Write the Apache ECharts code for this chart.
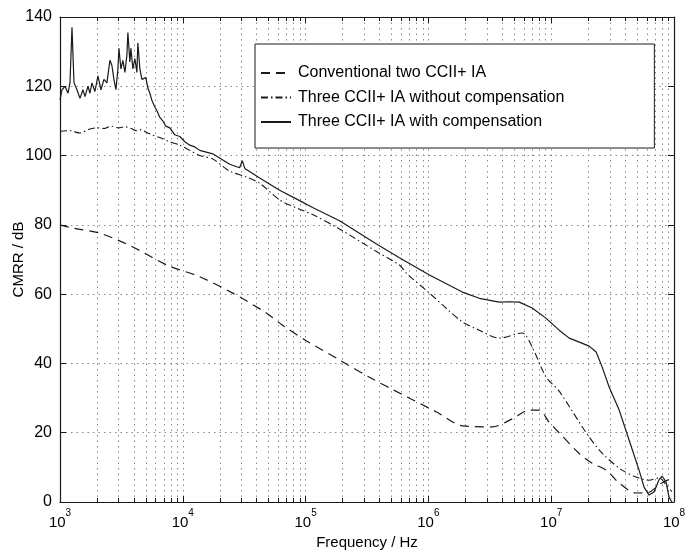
<!DOCTYPE html>
<html>
<head>
<meta charset="utf-8">
<script src="https://cdn.jsdelivr.net/npm/echarts@6/dist/echarts.min.js"></script>
<style>
  html, body { margin: 0; padding: 0; background: #fff; }
  #chart { width: 688px; height: 553px; }
</style>
</head>
<body>
<div id="chart"></div>
<script>
// series names (legend order)
const seriesNames = [
  'Conventional two CCII+ IA',
  'Three CCII+ IA without compensation',
  'Three CCII+ IA with compensation'
];

// conventional two CCII+ IA
const convFreq = [1000, 1300, 2115, 3922, 7414, 13746, 25500, 48190, 65010, 101900, 189000, 331300,
  614700, 1162000, 1890000, 3313000, 4819000, 6622000, 7985000, 9631000, 11610000, 16900000,
  21540000, 27990000, 35710000, 49090000, 62620000, 75510000, 91060000];
const convVal = [80, 79, 77.6, 73.6, 68.4, 65, 60.3, 54.5, 51, 46.5, 41, 36,
  31, 26, 22, 21.7, 24, 26.5, 26.5, 23, 20, 14,
  11.2, 9.2, 5.5, 2.6, 2.8, 5, 6.5];

// three CCII+ IA without compensation
const noCompFreq = [1000, 1200, 1450, 1700, 2000, 2300, 2600, 3000, 3400, 3800, 4200, 4600, 5000,
  5600, 6500, 7800, 9454, 11399, 13746, 17538, 24106, 33136, 42267, 61456, 89390, 114000,
  189000, 377800, 581000, 664000, 1019000, 1390000, 1890000, 2598000, 3778000, 5808000,
  7005000, 9106000, 11610000, 19260000, 25980000, 37760000, 51930000, 62620000, 75510000,
  86100000, 96000000];
const noCompVal = [107, 107.2, 106.5, 107.5, 108, 107.8, 108.5, 108, 108.3, 107.8, 107.2, 107.5, 106.8,
  106, 105.2, 104, 103, 101.5, 100, 99, 95.5, 93.8, 92, 87.2, 84.5, 83,
  78.8, 72.3, 68.4, 66, 60.3, 56, 52, 49.6, 47.3, 48.8,
  44.7, 36, 32, 20, 14.1, 9.2, 6.9, 6.3, 7,
  5, 3];

// three CCII+ IA with compensation
const compFreq = [1000, 1038, 1098, 1162, 1206, 1252, 1300, 1375, 1454, 1538, 1597, 1689, 1754, 1820,
  1925, 2037, 2154, 2279, 2411, 2550, 2648, 2748, 2853, 2962, 3018, 3133, 3252, 3377, 3505, 3571,
  3708, 3778, 3922, 4072, 4227, 4307, 4472, 4642, 4818, 5002, 5193, 5392, 5598, 5921, 6145, 6501,
  6877, 7275, 7842, 8610, 9454, 10382, 11399, 12518, 13746, 17538, 24106, 29000, 30500, 32000,
  42267, 61456, 89390, 114000, 189000, 377800, 581000, 1019000, 1890000, 2598000, 3778000,
  4555000, 5494000, 7005000, 9106000, 11610000, 14010000, 15970000, 20370000, 23220000,
  25980000, 29620000, 35710000, 43070000, 51930000, 57020000, 62620000, 68770000, 75510000,
  79860000, 86100000, 91060000, 96320000];
const compVal = [116, 119, 120, 118, 121, 137, 121, 119, 116.5, 119, 117, 120, 118, 121,
  118.5, 123, 119, 122, 121, 127.5, 126, 122, 119, 125, 131, 125, 127.5, 124, 129, 135.5,
  127, 131, 125, 128, 124, 132.5, 125, 122, 121.5, 122.5, 119.5, 118, 116, 114, 113, 111,
  110, 108.5, 108, 106, 105.5, 104, 103, 102.5, 101.5, 100.5, 97.5, 96.5, 98.5, 96.3,
  93.5, 90, 87, 85, 81.2, 74.5, 70.5, 65.5, 60.6, 58.8, 57.7,
  57.8, 57.7, 56, 53, 49.6, 47.3, 46.5, 45, 43.3,
  39, 33.2, 26.6, 17.9, 9.2, 4.3, 2, 2.9, 6.4,
  7.5, 5.8, 1.4, 0];

const yTicks = [0, 20, 40, 60, 80, 100, 120, 140];

const font = 'Liberation Sans, Arial, Helvetica, sans-serif';
const ink = '#1a1a1a';
const gridDots = { color: '#8a8a8a', width: 1, type: [1.5, 4] };

function pairs(xs, ys) {
  return xs.map((x, i) => [x, ys[i]]);
}

const chart = echarts.init(document.getElementById('chart'));

const xBase = {
  type: 'log',
  logBase: 10,
  min: 1000,
  max: 100000000,
  axisLine: { show: true, onZero: false, lineStyle: { color: ink, width: 1.2 } },
  axisTick: { show: true, inside: true, length: 6, lineStyle: { color: ink } },
  minorTick: { show: true, splitNumber: 9, length: 4, lineStyle: { color: ink } }
};

const yBase = {
  type: 'value',
  min: yTicks[0],
  max: yTicks[yTicks.length - 1],
  interval: 20,
  axisLine: { show: true, onZero: false, lineStyle: { color: ink, width: 1.2 } },
  axisTick: { show: true, inside: true, length: 6, lineStyle: { color: ink } }
};

const option = {
  backgroundColor: '#fff',
  animation: false,
  grid: { left: 60, right: 14, top: 17, bottom: 51, containLabel: false, outerBoundsMode: 'none' },
  legend: {
    orient: 'vertical',
    left: 255,
    top: 44,
    padding: [21, 90, 18, 5],
    itemGap: 8.5,
    itemWidth: 30,
    itemHeight: 14,
    borderColor: ink,
    borderWidth: 1,
    backgroundColor: '#fff',
    itemStyle: { color: 'transparent', borderWidth: 0 },
    textStyle: { fontFamily: font, fontSize: 16, color: '#000', padding: [0, 0, 0, 2] },
    data: seriesNames
  },
  xAxis: [
    Object.assign({}, xBase, {
      position: 'bottom',
      name: 'Frequency / Hz',
      nameLocation: 'middle',
      nameGap: 30,
      nameTextStyle: { fontFamily: font, fontSize: 15, color: '#000' },
      axisLabel: {
        margin: 6,
        formatter: v => '{b|10}{s|' + Math.round(Math.log10(v)) + '}',
        rich: {
          b: { fontFamily: font, fontSize: 15, color: '#000', lineHeight: 22, verticalAlign: 'bottom' },
          s: { fontFamily: font, fontSize: 10, color: '#000', lineHeight: 12, verticalAlign: 'top' }
        }
      },
      splitLine: { show: true, lineStyle: gridDots },
      minorSplitLine: { show: true, lineStyle: gridDots }
    }),
    Object.assign({}, xBase, {
      position: 'top',
      axisLabel: { show: false },
      splitLine: { show: false }
    })
  ],
  yAxis: [
    Object.assign({}, yBase, {
      position: 'left',
      name: 'CMRR / dB',
      nameLocation: 'middle',
      nameGap: 34,
      nameMoveOverlap: false,
      nameTextStyle: { fontFamily: font, fontSize: 15, color: '#000' },
      axisLabel: { fontFamily: font, fontSize: 16, color: '#000', margin: 8 },
      splitLine: { show: true, lineStyle: gridDots }
    }),
    Object.assign({}, yBase, {
      position: 'right',
      axisLabel: { show: false },
      splitLine: { show: false }
    })
  ],
  series: [
    {
      name: seriesNames[0],
      type: 'line',
      data: pairs(convFreq, convVal),
      symbol: 'none',
      smooth: 0.3,
      lineStyle: { color: ink, width: 1.2, type: [9, 6] },
      itemStyle: { color: ink }
    },
    {
      name: seriesNames[1],
      type: 'line',
      data: pairs(noCompFreq, noCompVal),
      symbol: 'none',
      smooth: 0.3,
      lineStyle: { color: ink, width: 1.1, type: [7, 3, 1.5, 3] },
      itemStyle: { color: ink }
    },
    {
      name: seriesNames[2],
      type: 'line',
      data: pairs(compFreq, compVal),
      symbol: 'none',
      lineStyle: { color: ink, width: 1.2 },
      itemStyle: { color: ink }
    }
  ]
};

chart.setOption(option);
</script>
</body>
</html>
